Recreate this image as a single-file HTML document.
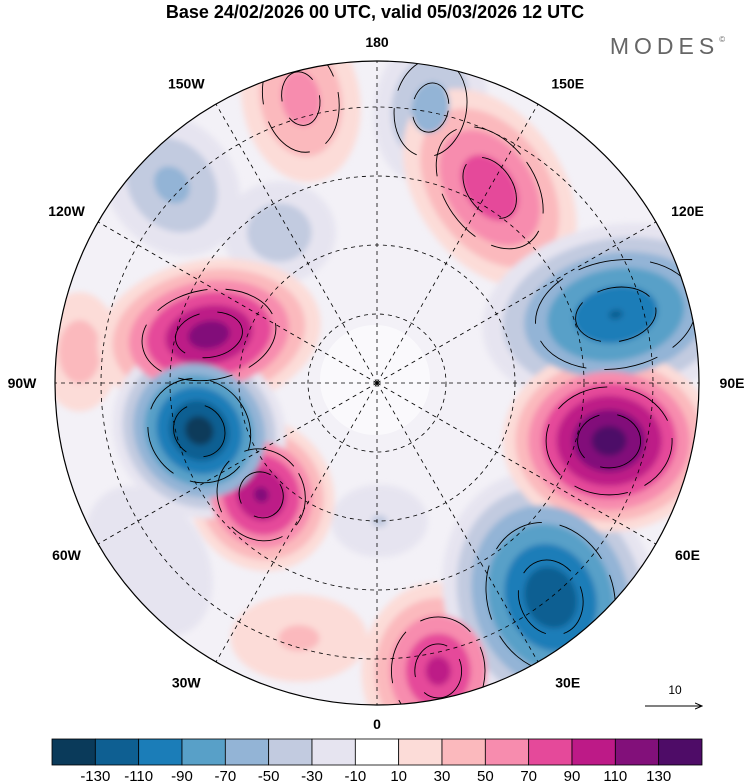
<!DOCTYPE html>
<html><head><meta charset="utf-8">
<style>
body{margin:0;background:#fff;width:750px;height:783px;overflow:hidden;font-family:"Liberation Sans",sans-serif}
svg{display:block}
</style></head>
<body>
<svg id="chart" width="750" height="783" viewBox="0 0 750 783" xmlns="http://www.w3.org/2000/svg">
<defs>
<clipPath id="disk"><circle cx="377" cy="383" r="322"/></clipPath>
<filter id="soft"><feGaussianBlur stdDeviation="3"/></filter>
<marker id="ah" markerWidth="8" markerHeight="8" refX="7" refY="4" orient="auto"><path d="M0,1 L7,4 L0,7" fill="none" stroke="#000" stroke-width="1"/></marker>
</defs>
<text x="375" y="18" text-anchor="middle" font-size="18" font-weight="bold">Base 24/02/2026 00 UTC, valid 05/03/2026 12 UTC</text>
<text x="670" y="54" text-anchor="middle" font-size="23" fill="#666" letter-spacing="5">MODES<tspan font-size="8" dy="-12">©</tspan></text>
<g id="map" clip-path="url(#disk)">
<rect x="0" y="0" width="750" height="783" fill="#f3f1f7"/>
<g id="blobs" filter="url(#soft)"></g>
<g id="land" fill="#e2e2e6" opacity="0.6"></g>
<g id="grid" fill="none" stroke="#000" stroke-width="0.8" stroke-dasharray="4,4"></g>
<g id="streams" fill="none" stroke="#000" stroke-width="0.9"></g>
</g>
<circle cx="377" cy="383" r="322" fill="none" stroke="#000" stroke-width="1.2"/>
<g id="lonlabels" font-size="14" font-weight="bold" text-anchor="middle"></g>
<text x="675" y="694" text-anchor="middle" font-size="12">10</text>
<line x1="645" y1="706" x2="702" y2="706" stroke="#000" stroke-width="1" marker-end="url(#ah)"/>
<g id="cbar"></g>
</svg>
<script>
const NS="http://www.w3.org/2000/svg";
const levels=[-130,-110,-90,-70,-50,-30,-10,10,30,50,70,90,110,130];
const colors=["#0a3a5a","#0e5f92","#1b7db8","#58a0c8","#93b4d6","#c2cbe0","#e6e4f0","#ffffff","#fcdcd8","#fbb9bd","#f78cae","#e5499a","#bd1a87","#82107a","#4e0c67"];
const blobLon=[-165,169,150,-134,-147,106,-106,-96,-75,-46,76,39,12,-17,-52,1];
const blobLat=[26,29,41,28,51,36,52,25,50,55,38,30,26,32,27,60];
const blobVal=[62,-62,88,-58,-48,-112,122,45,-142,115,142,-128,98,35,-28,-32];
const blobRx=[42,40,50,45,42,90,75,30,55,48,70,70,52,55,50,40];
const blobRy=[60,55,75,55,38,60,50,45,60,52,60,85,60,35,70,30];
const blobRot=[-10,10,-35,-40,0,-10,-10,0,-40,-30,0,-20,0,0,-30,0];
const cx=377,cy=383,R=322;
function proj(lon,lat){const rho=R*(90-lat)/70;const a=lon*Math.PI/180;return [cx+rho*Math.sin(a),cy+rho*Math.cos(a)];}
function colorFor(v){let i=0;while(i<levels.length&&v>levels[i])i++;return colors[i];}
const bg=document.getElementById('blobs');
const order=blobVal.map((v,i)=>i).sort((a,b)=>Math.abs(blobVal[a])-Math.abs(blobVal[b]));
[0,1].forEach(pass=>{
order.forEach(k=>{
 const v=blobVal[k];
 const [x,y]=proj(blobLon[k],blobLat[k]);
 const s=Math.sign(v),m=Math.abs(v);
 const th=[10,30,50,70,90,110,130].filter(t=>t<m).filter(t=>pass===0?t<=30:t>30);
 th.forEach(t=>{
  const f=Math.pow(1-t/m,0.75)*1.6;
  const e=document.createElementNS(NS,'ellipse');
  
  
  e.setAttribute('cx',x);e.setAttribute('cy',y);
  e.setAttribute('rx',blobRx[k]*f);e.setAttribute('ry',blobRy[k]*f);
  e.setAttribute('transform',`rotate(${blobRot[k]} ${x} ${y})`);
  e.setAttribute('fill',colorFor(s*(t+1)));
  bg.appendChild(e);
 });
});
});
const st=document.getElementById('streams');
blobVal.forEach((v,k)=>{
 if(Math.abs(v)<=60)return;
 const [x,y]=proj(blobLon[k],blobLat[k]);
 [0.45,0.9].forEach(f=>{
   const e=document.createElementNS(NS,'ellipse');
   
   
   e.setAttribute('cx',x);e.setAttribute('cy',y);
   e.setAttribute('rx',blobRx[k]*f);e.setAttribute('ry',blobRy[k]*f);
   e.setAttribute('transform',`rotate(${blobRot[k]} ${x} ${y})`);
   e.setAttribute('stroke-dasharray','55,18');
   st.appendChild(e);
 });
});
const land=document.getElementById('land');
const white=document.createElementNS(NS,'circle');


white.setAttribute('cx',375);white.setAttribute('cy',380);white.setAttribute('r',55);white.setAttribute('fill','#fff');
land.appendChild(white);
const grid=document.getElementById('grid');
[30,45,60,75].forEach(lat=>{
 const c=document.createElementNS(NS,'circle');
 
 
 c.setAttribute('cx',cx);c.setAttribute('cy',cy);c.setAttribute('r',R*(90-lat)/70);
 grid.appendChild(c);
});
const lonLab=[0,30,60,90,120,150,180,-150,-120,-90,-60,-30];
const lonTxt=["0","30E","60E","90E","120E","150E","180","150W","120W","90W","60W","30W"];
const ll=document.getElementById('lonlabels');
function labelAngle(lon){const s=Math.sign(lon),a=Math.abs(lon);const m={0:0,30:32.5,60:61,90:90,120:119,150:147.5,180:180};return s*m[a];}
lonLab.forEach((lon,i)=>{
 const [x,y]=proj(lon,20);
 const l=document.createElementNS(NS,'line');
 
 
 l.setAttribute('x1',cx);l.setAttribute('y1',cy);l.setAttribute('x2',x);l.setAttribute('y2',y);
 grid.appendChild(l);
 const a=labelAngle(lon)*Math.PI/180;
 const rr=(Math.abs(lon)===0||Math.abs(lon)===180)?341:355;
 const t=document.createElementNS(NS,'text');
 
 
 t.setAttribute('x',cx+rr*Math.sin(a));
 t.setAttribute('y',cy+rr*Math.cos(a)+5);
 t.textContent=lonTxt[i];
 ll.appendChild(t);
});
const cb=document.getElementById('cbar');
const x0=52,w=650/colors.length;
colors.forEach((c,i)=>{
 const r=document.createElementNS(NS,'rect');
 
 
 r.setAttribute('x',x0+i*w);r.setAttribute('y',739);r.setAttribute('width',w);r.setAttribute('height',26);
 r.setAttribute('fill',c);r.setAttribute('stroke','#000');r.setAttribute('stroke-width','0.8');
 cb.appendChild(r);
});
levels.forEach((v,i)=>{
 const t=document.createElementNS(NS,'text');
 
 
 t.setAttribute('x',x0+(i+1)*w);t.setAttribute('y',781);t.setAttribute('text-anchor','middle');t.setAttribute('font-size','15');
 t.textContent=v;
 cb.appendChild(t);
});
</script>
</body></html>
